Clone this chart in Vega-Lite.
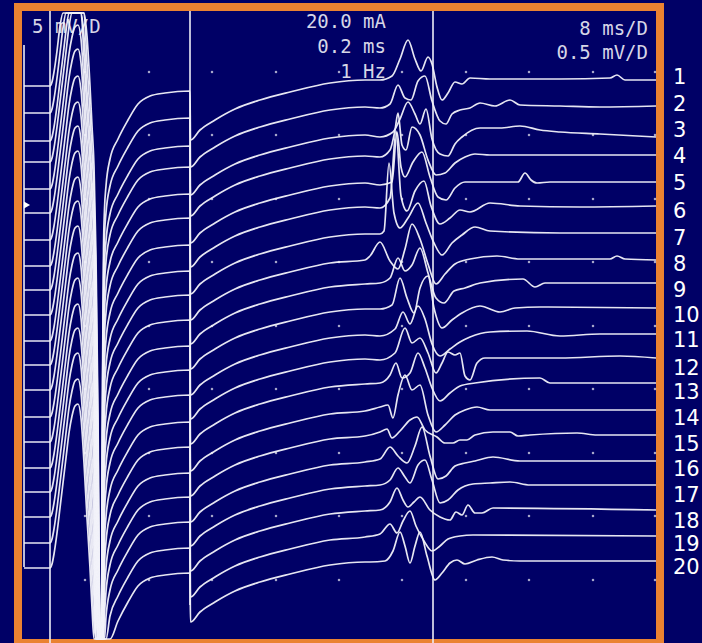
{
"$schema":"https://vega.github.io/schema/vega-lite/v6.json",
"width":642,"height":636,
"autosize":{"type":"none"},
"padding":{"left":18,"top":7,"right":42,"bottom":0},
"background":"#000066",
"config":{"view":{"fill":"#000066","stroke":"#ea8232","strokeWidth":8}},
"datasets":{
"rules":[{"t":2,"v":600,"v2":78},{"t":28,"v":634,"v2":2},{"t":168,"v":634,"v2":40},{"t":411,"v":634,"v2":2}],
"notesR":[{"t":364,"v":617,"s":"20.0 mA"},{"t":364,"v":592,"s":"0.2 ms"},{"t":364,"v":567,"s":"1 Hz"},{"t":626,"v":610,"s":"8 ms/D"},{"t":626,"v":586,"s":"0.5 mV/D"}],
"notesL":[{"t":10,"v":612,"s":"5 mV/D"}],
"nums":[{"t":651,"v":567,"s":"1"},{"t":651,"v":540,"s":"2"},{"t":651,"v":514,"s":"3"},{"t":651,"v":488,"s":"4"},{"t":651,"v":461,"s":"5"},{"t":651,"v":433,"s":"6"},{"t":651,"v":406,"s":"7"},{"t":651,"v":380,"s":"8"},{"t":651,"v":354,"s":"9"},{"t":651,"v":329,"s":"10"},{"t":651,"v":304,"s":"11"},{"t":651,"v":276,"s":"12"},{"t":651,"v":252,"s":"13"},{"t":651,"v":226,"s":"14"},{"t":651,"v":200,"s":"15"},{"t":651,"v":175,"s":"16"},{"t":651,"v":149,"s":"17"},{"t":651,"v":123,"s":"18"},{"t":651,"v":100,"s":"19"},{"t":651,"v":77,"s":"20"}],
"marker":[{"t":5,"v":440}],
"dots":[
{"t":63,"v":573},{"t":63,"v":510},{"t":63,"v":446},{"t":63,"v":383},{"t":63,"v":319},{"t":63,"v":256},{"t":63,"v":192},{"t":63,"v":129},{"t":63,"v":65},
{"t":127,"v":573},{"t":127,"v":510},{"t":127,"v":446},{"t":127,"v":383},{"t":127,"v":319},{"t":127,"v":256},{"t":127,"v":192},{"t":127,"v":129},{"t":127,"v":65},
{"t":190,"v":573},{"t":190,"v":510},{"t":190,"v":446},{"t":190,"v":383},{"t":190,"v":319},{"t":190,"v":256},{"t":190,"v":192},{"t":190,"v":129},{"t":190,"v":65},
{"t":254,"v":573},{"t":254,"v":510},{"t":254,"v":446},{"t":254,"v":383},{"t":254,"v":319},{"t":254,"v":256},{"t":254,"v":192},{"t":254,"v":129},{"t":254,"v":65},
{"t":317,"v":573},{"t":317,"v":510},{"t":317,"v":446},{"t":317,"v":383},{"t":317,"v":319},{"t":317,"v":256},{"t":317,"v":192},{"t":317,"v":129},{"t":317,"v":65},
{"t":380,"v":573},{"t":380,"v":510},{"t":380,"v":446},{"t":380,"v":383},{"t":380,"v":319},{"t":380,"v":256},{"t":380,"v":192},{"t":380,"v":129},{"t":380,"v":65},
{"t":444,"v":573},{"t":444,"v":510},{"t":444,"v":446},{"t":444,"v":383},{"t":444,"v":319},{"t":444,"v":256},{"t":444,"v":192},{"t":444,"v":129},{"t":444,"v":65},
{"t":507,"v":573},{"t":507,"v":510},{"t":507,"v":446},{"t":507,"v":383},{"t":507,"v":319},{"t":507,"v":256},{"t":507,"v":192},{"t":507,"v":129},{"t":507,"v":65},
{"t":571,"v":573},{"t":571,"v":510},{"t":571,"v":446},{"t":571,"v":383},{"t":571,"v":319},{"t":571,"v":256},{"t":571,"v":192},{"t":571,"v":129},{"t":571,"v":65},
{"t":633,"v":573},{"t":633,"v":510},{"t":633,"v":446},{"t":633,"v":383},{"t":633,"v":319},{"t":633,"v":256},{"t":633,"v":192},{"t":633,"v":129},{"t":633,"v":65}],
"traces":[
{"k":1,"t":2,"v":559},{"k":1,"t":28,"v":559},{"k":1,"t":30,"v":563},{"k":1,"t":32,"v":573},{"k":1,"t":35,"v":594},{"k":1,"t":38,"v":619},{"k":1,"t":41,"v":632},{"k":1,"t":62,"v":632},{"k":1,"t":65,"v":609},{"k":1,"t":68,"v":559},{"k":1,"t":70,"v":519},{"k":1,"t":72,"v":479},{"k":1,"t":74,"v":389},{"k":1,"t":76,"v":229},{"k":1,"t":78,"v":6},{"k":1,"t":79.5,"v":6},{"k":1,"t":80.5,"v":266},{"k":1,"t":81.5,"v":396},{"k":1,"t":82.5,"v":436},{"k":1,"t":84,"v":459},{"k":1,"t":88,"v":486},{"k":1,"t":96,"v":506},{"k":1,"t":106,"v":525},{"k":1,"t":116,"v":541},{"k":1,"t":128,"v":549},{"k":1,"t":143,"v":552},{"k":1,"t":168,"v":554},
{"k":1,"t":168.5,"v":505},{"k":1,"t":178,"v":515},{"k":1,"t":193,"v":525},{"k":1,"t":213,"v":536},{"k":1,"t":238,"v":545},{"k":1,"t":268,"v":553},{"k":1,"t":308,"v":562},{"k":1,"t":343,"v":565},
{"k":1,"t":358,"v":565},{"k":1,"t":370,"v":569},{"k":1,"t":378,"v":586},{"k":1,"t":386,"v":605},{"k":1,"t":393,"v":586},{"k":1,"t":399,"v":574},{"k":1,"t":406,"v":588},{"k":1,"t":410,"v":581},{"k":1,"t":415,"v":558},{"k":1,"t":420,"v":545},{"k":1,"t":426,"v":552},{"k":1,"t":433,"v":563},{"k":1,"t":440,"v":561},{"k":1,"t":448,"v":567},{"k":1,"t":468,"v":566},{"k":1,"t":538,"v":566},{"k":1,"t":588,"v":567},{"k":1,"t":595,"v":570},{"k":1,"t":603,"v":565},{"k":1,"t":634,"v":565},
{"k":2,"t":2,"v":532},{"k":2,"t":28,"v":532},{"k":2,"t":30,"v":536},{"k":2,"t":32,"v":546},{"k":2,"t":35,"v":567},{"k":2,"t":38,"v":592},{"k":2,"t":41,"v":617},{"k":2,"t":44,"v":632},{"k":2,"t":62,"v":632},{"k":2,"t":65,"v":582},{"k":2,"t":68,"v":532},{"k":2,"t":70,"v":492},{"k":2,"t":72,"v":452},{"k":2,"t":74,"v":362},{"k":2,"t":76,"v":202},{"k":2,"t":78,"v":6},{"k":2,"t":79.5,"v":6},{"k":2,"t":80.5,"v":239},{"k":2,"t":81.5,"v":369},{"k":2,"t":82.5,"v":409},{"k":2,"t":84,"v":432},{"k":2,"t":88,"v":459},{"k":2,"t":96,"v":479},{"k":2,"t":106,"v":498},{"k":2,"t":116,"v":514},{"k":2,"t":128,"v":522},{"k":2,"t":143,"v":525},{"k":2,"t":168,"v":527},
{"k":2,"t":168.5,"v":478},{"k":2,"t":178,"v":488},{"k":2,"t":193,"v":498},{"k":2,"t":213,"v":509},{"k":2,"t":238,"v":518},{"k":2,"t":268,"v":526},{"k":2,"t":308,"v":535},{"k":2,"t":343,"v":538},
{"k":2,"t":358,"v":537},{"k":2,"t":368,"v":541},{"k":2,"t":376,"v":560},{"k":2,"t":383,"v":547},{"k":2,"t":389,"v":545},{"k":2,"t":396,"v":564},{"k":2,"t":403,"v":569},{"k":2,"t":410,"v":544},{"k":2,"t":418,"v":524},{"k":2,"t":424,"v":521},{"k":2,"t":430,"v":531},{"k":2,"t":438,"v":535},{"k":2,"t":448,"v":537},{"k":2,"t":458,"v":542},{"k":2,"t":473,"v":539},{"k":2,"t":488,"v":545},{"k":2,"t":498,"v":540},{"k":2,"t":538,"v":539},{"k":2,"t":578,"v":538},{"k":2,"t":634,"v":539},
{"k":3,"t":2,"v":504},{"k":3,"t":28,"v":504},{"k":3,"t":30,"v":508},{"k":3,"t":32,"v":518},{"k":3,"t":35,"v":539},{"k":3,"t":38,"v":564},{"k":3,"t":41,"v":589},{"k":3,"t":44,"v":614},{"k":3,"t":47,"v":632},{"k":3,"t":59,"v":632},{"k":3,"t":62,"v":609},{"k":3,"t":65,"v":554},{"k":3,"t":68,"v":504},{"k":3,"t":70,"v":464},{"k":3,"t":72,"v":424},{"k":3,"t":74,"v":334},{"k":3,"t":76,"v":174},{"k":3,"t":78,"v":6},{"k":3,"t":79.5,"v":6},{"k":3,"t":80.5,"v":211},{"k":3,"t":81.5,"v":341},{"k":3,"t":82.5,"v":381},{"k":3,"t":84,"v":404},{"k":3,"t":88,"v":431},{"k":3,"t":96,"v":451},{"k":3,"t":106,"v":470},{"k":3,"t":116,"v":486},{"k":3,"t":128,"v":494},{"k":3,"t":143,"v":497},{"k":3,"t":168,"v":499},
{"k":3,"t":168.5,"v":450},{"k":3,"t":178,"v":460},{"k":3,"t":193,"v":470},{"k":3,"t":213,"v":481},{"k":3,"t":238,"v":490},{"k":3,"t":268,"v":498},{"k":3,"t":308,"v":507},{"k":3,"t":343,"v":510},
{"k":3,"t":358,"v":508},{"k":3,"t":371,"v":513},{"k":3,"t":378,"v":526},{"k":3,"t":386,"v":543},{"k":3,"t":393,"v":531},{"k":3,"t":398,"v":521},{"k":3,"t":404,"v":536},{"k":3,"t":410,"v":506},{"k":3,"t":418,"v":491},{"k":3,"t":426,"v":489},{"k":3,"t":433,"v":501},{"k":3,"t":440,"v":508},{"k":3,"t":458,"v":517},{"k":3,"t":478,"v":517},{"k":3,"t":498,"v":519},{"k":3,"t":518,"v":515},{"k":3,"t":538,"v":513},{"k":3,"t":578,"v":511},{"k":3,"t":634,"v":508},
{"k":4,"t":2,"v":483},{"k":4,"t":28,"v":483},{"k":4,"t":30,"v":487},{"k":4,"t":32,"v":497},{"k":4,"t":35,"v":518},{"k":4,"t":38,"v":543},{"k":4,"t":41,"v":568},{"k":4,"t":44,"v":593},{"k":4,"t":47,"v":618},{"k":4,"t":50,"v":632},{"k":4,"t":59,"v":632},{"k":4,"t":62,"v":588},{"k":4,"t":65,"v":533},{"k":4,"t":68,"v":483},{"k":4,"t":70,"v":443},{"k":4,"t":72,"v":403},{"k":4,"t":74,"v":313},{"k":4,"t":76,"v":153},{"k":4,"t":78,"v":6},{"k":4,"t":79.5,"v":6},{"k":4,"t":80.5,"v":190},{"k":4,"t":81.5,"v":320},{"k":4,"t":82.5,"v":360},{"k":4,"t":84,"v":383},{"k":4,"t":88,"v":410},{"k":4,"t":96,"v":430},{"k":4,"t":106,"v":449},{"k":4,"t":116,"v":465},{"k":4,"t":128,"v":473},{"k":4,"t":143,"v":476},{"k":4,"t":168,"v":478},
{"k":4,"t":168.5,"v":429},{"k":4,"t":178,"v":439},{"k":4,"t":193,"v":449},{"k":4,"t":213,"v":460},{"k":4,"t":238,"v":469},{"k":4,"t":268,"v":477},{"k":4,"t":308,"v":486},{"k":4,"t":343,"v":489},
{"k":4,"t":358,"v":488},{"k":4,"t":368,"v":495},{"k":4,"t":373,"v":515},{"k":4,"t":376,"v":532},{"k":4,"t":380,"v":500},{"k":4,"t":384,"v":495},{"k":4,"t":390,"v":518},{"k":4,"t":398,"v":510},{"k":4,"t":406,"v":485},{"k":4,"t":414,"v":470},{"k":4,"t":423,"v":472},{"k":4,"t":433,"v":482},{"k":4,"t":443,"v":488},{"k":4,"t":453,"v":491},{"k":4,"t":468,"v":490},{"k":4,"t":634,"v":490},
{"k":5,"t":2,"v":456},{"k":5,"t":28,"v":456},{"k":5,"t":30,"v":460},{"k":5,"t":32,"v":470},{"k":5,"t":35,"v":491},{"k":5,"t":38,"v":516},{"k":5,"t":41,"v":541},{"k":5,"t":44,"v":566},{"k":5,"t":47,"v":591},{"k":5,"t":50,"v":608},{"k":5,"t":53,"v":618},{"k":5,"t":56,"v":620},{"k":5,"t":59,"v":606},{"k":5,"t":62,"v":561},{"k":5,"t":65,"v":506},{"k":5,"t":68,"v":456},{"k":5,"t":70,"v":416},{"k":5,"t":72,"v":376},{"k":5,"t":74,"v":286},{"k":5,"t":76,"v":126},{"k":5,"t":78,"v":6},{"k":5,"t":79.5,"v":6},{"k":5,"t":80.5,"v":163},{"k":5,"t":81.5,"v":293},{"k":5,"t":82.5,"v":333},{"k":5,"t":84,"v":356},{"k":5,"t":88,"v":383},{"k":5,"t":96,"v":403},{"k":5,"t":106,"v":422},{"k":5,"t":116,"v":438},{"k":5,"t":128,"v":446},{"k":5,"t":143,"v":449},{"k":5,"t":168,"v":451},
{"k":5,"t":168.5,"v":402},{"k":5,"t":178,"v":412},{"k":5,"t":193,"v":422},{"k":5,"t":213,"v":433},{"k":5,"t":238,"v":442},{"k":5,"t":268,"v":450},{"k":5,"t":308,"v":459},{"k":5,"t":343,"v":462},
{"k":5,"t":358,"v":460},{"k":5,"t":370,"v":463},{"k":5,"t":375,"v":513},{"k":5,"t":379,"v":478},{"k":5,"t":383,"v":468},{"k":5,"t":391,"v":483},{"k":5,"t":400,"v":493},{"k":5,"t":408,"v":468},{"k":5,"t":416,"v":448},{"k":5,"t":424,"v":445},{"k":5,"t":433,"v":457},{"k":5,"t":443,"v":463},{"k":5,"t":496,"v":463},{"k":5,"t":503,"v":472},{"k":5,"t":509,"v":465},{"k":5,"t":515,"v":462},{"k":5,"t":528,"v":463},{"k":5,"t":634,"v":463},
{"k":6,"t":2,"v":432},{"k":6,"t":28,"v":432},{"k":6,"t":30,"v":436},{"k":6,"t":32,"v":446},{"k":6,"t":35,"v":467},{"k":6,"t":38,"v":492},{"k":6,"t":41,"v":517},{"k":6,"t":44,"v":542},{"k":6,"t":47,"v":567},{"k":6,"t":50,"v":584},{"k":6,"t":53,"v":594},{"k":6,"t":56,"v":596},{"k":6,"t":59,"v":582},{"k":6,"t":62,"v":537},{"k":6,"t":65,"v":482},{"k":6,"t":68,"v":432},{"k":6,"t":70,"v":392},{"k":6,"t":72,"v":352},{"k":6,"t":74,"v":262},{"k":6,"t":76,"v":102},{"k":6,"t":78,"v":6},{"k":6,"t":79.5,"v":6},{"k":6,"t":80.5,"v":139},{"k":6,"t":81.5,"v":269},{"k":6,"t":82.5,"v":309},{"k":6,"t":84,"v":332},{"k":6,"t":88,"v":359},{"k":6,"t":96,"v":379},{"k":6,"t":106,"v":398},{"k":6,"t":116,"v":414},{"k":6,"t":128,"v":422},{"k":6,"t":143,"v":425},{"k":6,"t":168,"v":427},
{"k":6,"t":168.5,"v":378},{"k":6,"t":178,"v":388},{"k":6,"t":193,"v":398},{"k":6,"t":213,"v":409},{"k":6,"t":238,"v":418},{"k":6,"t":268,"v":426},{"k":6,"t":308,"v":435},{"k":6,"t":343,"v":438},
{"k":6,"t":358,"v":437},{"k":6,"t":368,"v":447},{"k":6,"t":374,"v":514},{"k":6,"t":379,"v":449},{"k":6,"t":385,"v":434},{"k":6,"t":393,"v":454},{"k":6,"t":402,"v":464},{"k":6,"t":409,"v":439},{"k":6,"t":418,"v":421},{"k":6,"t":428,"v":427},{"k":6,"t":438,"v":435},{"k":6,"t":448,"v":433},{"k":6,"t":468,"v":442},{"k":6,"t":498,"v":439},{"k":6,"t":558,"v":438},{"k":6,"t":634,"v":439},
{"k":7,"t":2,"v":405},{"k":7,"t":28,"v":405},{"k":7,"t":30,"v":409},{"k":7,"t":32,"v":419},{"k":7,"t":35,"v":440},{"k":7,"t":38,"v":465},{"k":7,"t":41,"v":490},{"k":7,"t":44,"v":515},{"k":7,"t":47,"v":540},{"k":7,"t":50,"v":557},{"k":7,"t":53,"v":567},{"k":7,"t":56,"v":569},{"k":7,"t":59,"v":555},{"k":7,"t":62,"v":510},{"k":7,"t":65,"v":455},{"k":7,"t":68,"v":405},{"k":7,"t":70,"v":365},{"k":7,"t":72,"v":325},{"k":7,"t":74,"v":235},{"k":7,"t":76,"v":75},{"k":7,"t":78,"v":6},{"k":7,"t":79.5,"v":6},{"k":7,"t":80.5,"v":112},{"k":7,"t":81.5,"v":242},{"k":7,"t":82.5,"v":282},{"k":7,"t":84,"v":305},{"k":7,"t":88,"v":332},{"k":7,"t":96,"v":352},{"k":7,"t":106,"v":371},{"k":7,"t":116,"v":387},{"k":7,"t":128,"v":395},{"k":7,"t":143,"v":398},{"k":7,"t":168,"v":400},
{"k":7,"t":168.5,"v":351},{"k":7,"t":178,"v":361},{"k":7,"t":193,"v":371},{"k":7,"t":213,"v":382},{"k":7,"t":238,"v":391},{"k":7,"t":268,"v":399},{"k":7,"t":308,"v":408},{"k":7,"t":343,"v":411},
{"k":7,"t":358,"v":411},{"k":7,"t":362,"v":414},{"k":7,"t":367,"v":482},{"k":7,"t":372,"v":432},{"k":7,"t":378,"v":417},{"k":7,"t":386,"v":427},{"k":7,"t":396,"v":442},{"k":7,"t":404,"v":422},{"k":7,"t":412,"v":402},{"k":7,"t":420,"v":390},{"k":7,"t":430,"v":402},{"k":7,"t":440,"v":410},{"k":7,"t":453,"v":418},{"k":7,"t":468,"v":414},{"k":7,"t":538,"v":412},{"k":7,"t":634,"v":412},
{"k":8,"t":2,"v":379},{"k":8,"t":28,"v":379},{"k":8,"t":30,"v":383},{"k":8,"t":32,"v":393},{"k":8,"t":35,"v":414},{"k":8,"t":38,"v":439},{"k":8,"t":41,"v":464},{"k":8,"t":44,"v":489},{"k":8,"t":47,"v":514},{"k":8,"t":50,"v":531},{"k":8,"t":53,"v":541},{"k":8,"t":56,"v":543},{"k":8,"t":59,"v":529},{"k":8,"t":62,"v":484},{"k":8,"t":65,"v":429},{"k":8,"t":68,"v":379},{"k":8,"t":70,"v":339},{"k":8,"t":72,"v":299},{"k":8,"t":74,"v":209},{"k":8,"t":76,"v":49},{"k":8,"t":78,"v":6},{"k":8,"t":79.5,"v":6},{"k":8,"t":80.5,"v":86},{"k":8,"t":81.5,"v":216},{"k":8,"t":82.5,"v":256},{"k":8,"t":84,"v":279},{"k":8,"t":88,"v":306},{"k":8,"t":96,"v":326},{"k":8,"t":106,"v":345},{"k":8,"t":116,"v":361},{"k":8,"t":128,"v":369},{"k":8,"t":143,"v":372},{"k":8,"t":168,"v":374},
{"k":8,"t":168.5,"v":325},{"k":8,"t":178,"v":335},{"k":8,"t":193,"v":345},{"k":8,"t":213,"v":356},{"k":8,"t":238,"v":365},{"k":8,"t":268,"v":373},{"k":8,"t":308,"v":382},{"k":8,"t":343,"v":385},
{"k":8,"t":348,"v":389},{"k":8,"t":358,"v":403},{"k":8,"t":368,"v":384},{"k":8,"t":376,"v":376},{"k":8,"t":383,"v":396},{"k":8,"t":390,"v":421},{"k":8,"t":398,"v":406},{"k":8,"t":406,"v":381},{"k":8,"t":414,"v":361},{"k":8,"t":423,"v":371},{"k":8,"t":433,"v":381},{"k":8,"t":448,"v":386},{"k":8,"t":475,"v":389},{"k":8,"t":498,"v":386},{"k":8,"t":588,"v":386},{"k":8,"t":595,"v":389},{"k":8,"t":603,"v":386},{"k":8,"t":634,"v":385},
{"k":9,"t":2,"v":355},{"k":9,"t":28,"v":355},{"k":9,"t":30,"v":359},{"k":9,"t":32,"v":369},{"k":9,"t":35,"v":390},{"k":9,"t":38,"v":415},{"k":9,"t":41,"v":440},{"k":9,"t":44,"v":465},{"k":9,"t":47,"v":490},{"k":9,"t":50,"v":507},{"k":9,"t":53,"v":517},{"k":9,"t":56,"v":519},{"k":9,"t":59,"v":505},{"k":9,"t":62,"v":460},{"k":9,"t":65,"v":405},{"k":9,"t":68,"v":355},{"k":9,"t":70,"v":315},{"k":9,"t":72,"v":275},{"k":9,"t":74,"v":185},{"k":9,"t":76,"v":25},{"k":9,"t":78,"v":6},{"k":9,"t":79.5,"v":6},{"k":9,"t":80.5,"v":62},{"k":9,"t":81.5,"v":192},{"k":9,"t":82.5,"v":232},{"k":9,"t":84,"v":255},{"k":9,"t":88,"v":282},{"k":9,"t":96,"v":302},{"k":9,"t":106,"v":321},{"k":9,"t":116,"v":337},{"k":9,"t":128,"v":345},{"k":9,"t":143,"v":348},{"k":9,"t":168,"v":350},
{"k":9,"t":168.5,"v":301},{"k":9,"t":178,"v":311},{"k":9,"t":193,"v":321},{"k":9,"t":213,"v":332},{"k":9,"t":238,"v":341},{"k":9,"t":268,"v":349},{"k":9,"t":308,"v":358},{"k":9,"t":343,"v":361},
{"k":9,"t":358,"v":362},{"k":9,"t":368,"v":367},{"k":9,"t":376,"v":387},{"k":9,"t":383,"v":374},{"k":9,"t":390,"v":380},{"k":9,"t":398,"v":397},{"k":9,"t":406,"v":372},{"k":9,"t":414,"v":347},{"k":9,"t":422,"v":342},{"k":9,"t":432,"v":354},{"k":9,"t":443,"v":357},{"k":9,"t":458,"v":362},{"k":9,"t":501,"v":366},{"k":9,"t":513,"v":358},{"k":9,"t":523,"v":362},{"k":9,"t":634,"v":362},
{"k":10,"t":2,"v":330},{"k":10,"t":28,"v":330},{"k":10,"t":30,"v":334},{"k":10,"t":32,"v":344},{"k":10,"t":35,"v":365},{"k":10,"t":38,"v":390},{"k":10,"t":41,"v":415},{"k":10,"t":44,"v":440},{"k":10,"t":47,"v":465},{"k":10,"t":50,"v":482},{"k":10,"t":53,"v":492},{"k":10,"t":56,"v":494},{"k":10,"t":59,"v":480},{"k":10,"t":62,"v":435},{"k":10,"t":65,"v":380},{"k":10,"t":68,"v":330},{"k":10,"t":70,"v":290},{"k":10,"t":72,"v":250},{"k":10,"t":74,"v":160},{"k":10,"t":76,"v":6},{"k":10,"t":79.5,"v":6},{"k":10,"t":80.5,"v":37},{"k":10,"t":81.5,"v":167},{"k":10,"t":82.5,"v":207},{"k":10,"t":84,"v":230},{"k":10,"t":88,"v":257},{"k":10,"t":96,"v":277},{"k":10,"t":106,"v":296},{"k":10,"t":116,"v":312},{"k":10,"t":128,"v":320},{"k":10,"t":143,"v":323},{"k":10,"t":168,"v":325},
{"k":10,"t":168.5,"v":276},{"k":10,"t":178,"v":286},{"k":10,"t":193,"v":296},{"k":10,"t":213,"v":307},{"k":10,"t":238,"v":316},{"k":10,"t":268,"v":324},{"k":10,"t":308,"v":333},{"k":10,"t":343,"v":336},
{"k":10,"t":358,"v":336},{"k":10,"t":370,"v":340},{"k":10,"t":378,"v":367},{"k":10,"t":385,"v":347},{"k":10,"t":392,"v":332},{"k":10,"t":398,"v":357},{"k":10,"t":406,"v":369},{"k":10,"t":412,"v":337},{"k":10,"t":420,"v":317},{"k":10,"t":430,"v":325},{"k":10,"t":440,"v":332},{"k":10,"t":458,"v":339},{"k":10,"t":478,"v":333},{"k":10,"t":493,"v":337},{"k":10,"t":518,"v":338},{"k":10,"t":634,"v":337},
{"k":11,"t":2,"v":304},{"k":11,"t":28,"v":304},{"k":11,"t":30,"v":308},{"k":11,"t":32,"v":318},{"k":11,"t":35,"v":339},{"k":11,"t":38,"v":364},{"k":11,"t":41,"v":389},{"k":11,"t":44,"v":414},{"k":11,"t":47,"v":439},{"k":11,"t":50,"v":456},{"k":11,"t":53,"v":466},{"k":11,"t":56,"v":468},{"k":11,"t":59,"v":454},{"k":11,"t":62,"v":409},{"k":11,"t":65,"v":354},{"k":11,"t":68,"v":304},{"k":11,"t":70,"v":264},{"k":11,"t":72,"v":224},{"k":11,"t":74,"v":134},{"k":11,"t":76,"v":6},{"k":11,"t":79.5,"v":6},{"k":11,"t":80.5,"v":11},{"k":11,"t":81.5,"v":141},{"k":11,"t":82.5,"v":181},{"k":11,"t":84,"v":204},{"k":11,"t":88,"v":231},{"k":11,"t":96,"v":251},{"k":11,"t":106,"v":270},{"k":11,"t":116,"v":286},{"k":11,"t":128,"v":294},{"k":11,"t":143,"v":297},{"k":11,"t":168,"v":299},
{"k":11,"t":168.5,"v":250},{"k":11,"t":178,"v":260},{"k":11,"t":193,"v":270},{"k":11,"t":213,"v":281},{"k":11,"t":238,"v":290},{"k":11,"t":268,"v":298},{"k":11,"t":308,"v":307},{"k":11,"t":343,"v":310},
{"k":11,"t":358,"v":309},{"k":11,"t":373,"v":316},{"k":11,"t":381,"v":333},{"k":11,"t":388,"v":321},{"k":11,"t":396,"v":339},{"k":11,"t":403,"v":326},{"k":11,"t":410,"v":301},{"k":11,"t":418,"v":289},{"k":11,"t":428,"v":296},{"k":11,"t":438,"v":303},{"k":11,"t":448,"v":308},{"k":11,"t":468,"v":313},{"k":11,"t":505,"v":314},{"k":11,"t":538,"v":309},{"k":11,"t":578,"v":311},{"k":11,"t":634,"v":311},
{"k":12,"t":2,"v":280},{"k":12,"t":28,"v":280},{"k":12,"t":30,"v":284},{"k":12,"t":32,"v":294},{"k":12,"t":35,"v":315},{"k":12,"t":38,"v":340},{"k":12,"t":41,"v":365},{"k":12,"t":44,"v":390},{"k":12,"t":47,"v":415},{"k":12,"t":50,"v":432},{"k":12,"t":53,"v":442},{"k":12,"t":56,"v":444},{"k":12,"t":59,"v":430},{"k":12,"t":62,"v":385},{"k":12,"t":65,"v":330},{"k":12,"t":68,"v":280},{"k":12,"t":70,"v":240},{"k":12,"t":72,"v":200},{"k":12,"t":74,"v":110},{"k":12,"t":76,"v":6},{"k":12,"t":80.5,"v":6},{"k":12,"t":81.5,"v":117},{"k":12,"t":82.5,"v":157},{"k":12,"t":84,"v":180},{"k":12,"t":88,"v":207},{"k":12,"t":96,"v":227},{"k":12,"t":106,"v":246},{"k":12,"t":116,"v":262},{"k":12,"t":128,"v":270},{"k":12,"t":143,"v":273},{"k":12,"t":168,"v":275},
{"k":12,"t":168.5,"v":226},{"k":12,"t":178,"v":236},{"k":12,"t":193,"v":246},{"k":12,"t":213,"v":257},{"k":12,"t":238,"v":266},{"k":12,"t":268,"v":274},{"k":12,"t":308,"v":283},{"k":12,"t":343,"v":286},
{"k":12,"t":358,"v":285},{"k":12,"t":373,"v":292},{"k":12,"t":383,"v":317},{"k":12,"t":390,"v":302},{"k":12,"t":398,"v":307},{"k":12,"t":406,"v":292},{"k":12,"t":414,"v":272},{"k":12,"t":420,"v":282},{"k":12,"t":426,"v":293},{"k":12,"t":433,"v":290},{"k":12,"t":438,"v":292},{"k":12,"t":443,"v":269},{"k":12,"t":448,"v":265},{"k":12,"t":455,"v":282},{"k":12,"t":463,"v":287},{"k":12,"t":538,"v":287},{"k":12,"t":598,"v":289},{"k":12,"t":634,"v":287},
{"k":13,"t":2,"v":255},{"k":13,"t":28,"v":255},{"k":13,"t":30,"v":259},{"k":13,"t":32,"v":269},{"k":13,"t":35,"v":290},{"k":13,"t":38,"v":315},{"k":13,"t":41,"v":340},{"k":13,"t":44,"v":365},{"k":13,"t":47,"v":390},{"k":13,"t":50,"v":407},{"k":13,"t":53,"v":417},{"k":13,"t":56,"v":419},{"k":13,"t":59,"v":405},{"k":13,"t":62,"v":360},{"k":13,"t":65,"v":305},{"k":13,"t":68,"v":255},{"k":13,"t":70,"v":215},{"k":13,"t":72,"v":175},{"k":13,"t":74,"v":85},{"k":13,"t":76,"v":6},{"k":13,"t":80.5,"v":6},{"k":13,"t":81.5,"v":92},{"k":13,"t":82.5,"v":132},{"k":13,"t":84,"v":155},{"k":13,"t":88,"v":182},{"k":13,"t":96,"v":202},{"k":13,"t":106,"v":221},{"k":13,"t":116,"v":237},{"k":13,"t":128,"v":245},{"k":13,"t":143,"v":248},{"k":13,"t":168,"v":250},
{"k":13,"t":168.5,"v":201},{"k":13,"t":178,"v":211},{"k":13,"t":193,"v":221},{"k":13,"t":213,"v":232},{"k":13,"t":238,"v":241},{"k":13,"t":268,"v":249},{"k":13,"t":308,"v":258},{"k":13,"t":343,"v":261},
{"k":13,"t":358,"v":262},{"k":13,"t":368,"v":270},{"k":13,"t":374,"v":282},{"k":13,"t":380,"v":267},{"k":13,"t":388,"v":272},{"k":13,"t":396,"v":292},{"k":13,"t":403,"v":277},{"k":13,"t":410,"v":257},{"k":13,"t":418,"v":244},{"k":13,"t":428,"v":252},{"k":13,"t":438,"v":259},{"k":13,"t":453,"v":262},{"k":13,"t":518,"v":267},{"k":13,"t":528,"v":262},{"k":13,"t":634,"v":262},
{"k":14,"t":2,"v":228},{"k":14,"t":28,"v":228},{"k":14,"t":30,"v":232},{"k":14,"t":32,"v":242},{"k":14,"t":35,"v":263},{"k":14,"t":38,"v":288},{"k":14,"t":41,"v":313},{"k":14,"t":44,"v":338},{"k":14,"t":47,"v":363},{"k":14,"t":50,"v":380},{"k":14,"t":53,"v":390},{"k":14,"t":56,"v":392},{"k":14,"t":59,"v":378},{"k":14,"t":62,"v":333},{"k":14,"t":65,"v":278},{"k":14,"t":68,"v":228},{"k":14,"t":70,"v":188},{"k":14,"t":72,"v":148},{"k":14,"t":74,"v":58},{"k":14,"t":76,"v":6},{"k":14,"t":80.5,"v":6},{"k":14,"t":81.5,"v":65},{"k":14,"t":82.5,"v":105},{"k":14,"t":84,"v":128},{"k":14,"t":88,"v":155},{"k":14,"t":96,"v":175},{"k":14,"t":106,"v":194},{"k":14,"t":116,"v":210},{"k":14,"t":128,"v":218},{"k":14,"t":143,"v":221},{"k":14,"t":168,"v":223},
{"k":14,"t":168.5,"v":174},{"k":14,"t":178,"v":184},{"k":14,"t":193,"v":194},{"k":14,"t":213,"v":205},{"k":14,"t":238,"v":214},{"k":14,"t":268,"v":222},{"k":14,"t":308,"v":231},{"k":14,"t":343,"v":234},
{"k":14,"t":358,"v":238},{"k":14,"t":366,"v":240},{"k":14,"t":371,"v":227},{"k":14,"t":376,"v":250},{"k":14,"t":383,"v":270},{"k":14,"t":390,"v":255},{"k":14,"t":398,"v":260},{"k":14,"t":406,"v":230},{"k":14,"t":414,"v":213},{"k":14,"t":423,"v":220},{"k":14,"t":433,"v":230},{"k":14,"t":443,"v":235},{"k":14,"t":455,"v":238},{"k":14,"t":468,"v":235},{"k":14,"t":634,"v":235},
{"k":15,"t":2,"v":203},{"k":15,"t":28,"v":203},{"k":15,"t":30,"v":207},{"k":15,"t":32,"v":217},{"k":15,"t":35,"v":238},{"k":15,"t":38,"v":263},{"k":15,"t":41,"v":288},{"k":15,"t":44,"v":313},{"k":15,"t":47,"v":338},{"k":15,"t":50,"v":355},{"k":15,"t":53,"v":365},{"k":15,"t":56,"v":367},{"k":15,"t":59,"v":353},{"k":15,"t":62,"v":308},{"k":15,"t":65,"v":253},{"k":15,"t":68,"v":203},{"k":15,"t":70,"v":163},{"k":15,"t":72,"v":123},{"k":15,"t":74,"v":33},{"k":15,"t":76,"v":6},{"k":15,"t":80.5,"v":6},{"k":15,"t":81.5,"v":40},{"k":15,"t":82.5,"v":80},{"k":15,"t":84,"v":103},{"k":15,"t":88,"v":130},{"k":15,"t":96,"v":150},{"k":15,"t":106,"v":169},{"k":15,"t":116,"v":185},{"k":15,"t":128,"v":193},{"k":15,"t":143,"v":196},{"k":15,"t":168,"v":198},
{"k":15,"t":168.5,"v":149},{"k":15,"t":178,"v":159},{"k":15,"t":193,"v":169},{"k":15,"t":213,"v":180},{"k":15,"t":238,"v":189},{"k":15,"t":268,"v":197},{"k":15,"t":308,"v":206},{"k":15,"t":343,"v":209},
{"k":15,"t":358,"v":213},{"k":15,"t":365,"v":216},{"k":15,"t":370,"v":207},{"k":15,"t":378,"v":214},{"k":15,"t":388,"v":225},{"k":15,"t":395,"v":228},{"k":15,"t":403,"v":215},{"k":15,"t":415,"v":208},{"k":15,"t":423,"v":202},{"k":15,"t":431,"v":202},{"k":15,"t":438,"v":205},{"k":15,"t":445,"v":205},{"k":15,"t":453,"v":210},{"k":15,"t":471,"v":213},{"k":15,"t":488,"v":213},{"k":15,"t":496,"v":209},{"k":15,"t":508,"v":210},{"k":15,"t":555,"v":212},{"k":15,"t":575,"v":210},{"k":15,"t":634,"v":210},
{"k":16,"t":2,"v":177},{"k":16,"t":28,"v":177},{"k":16,"t":30,"v":181},{"k":16,"t":32,"v":191},{"k":16,"t":35,"v":212},{"k":16,"t":38,"v":237},{"k":16,"t":41,"v":262},{"k":16,"t":44,"v":287},{"k":16,"t":47,"v":312},{"k":16,"t":50,"v":329},{"k":16,"t":53,"v":339},{"k":16,"t":56,"v":341},{"k":16,"t":59,"v":327},{"k":16,"t":62,"v":282},{"k":16,"t":65,"v":227},{"k":16,"t":68,"v":177},{"k":16,"t":70,"v":137},{"k":16,"t":72,"v":97},{"k":16,"t":74,"v":7},{"k":16,"t":80.5,"v":6},{"k":16,"t":81.5,"v":14},{"k":16,"t":82.5,"v":54},{"k":16,"t":84,"v":77},{"k":16,"t":88,"v":104},{"k":16,"t":96,"v":124},{"k":16,"t":106,"v":143},{"k":16,"t":116,"v":159},{"k":16,"t":128,"v":167},{"k":16,"t":143,"v":170},{"k":16,"t":168,"v":172},
{"k":16,"t":168.5,"v":123},{"k":16,"t":178,"v":133},{"k":16,"t":193,"v":143},{"k":16,"t":213,"v":154},{"k":16,"t":238,"v":163},{"k":16,"t":268,"v":171},{"k":16,"t":308,"v":180},{"k":16,"t":343,"v":183},
{"k":16,"t":358,"v":186},{"k":16,"t":368,"v":198},{"k":16,"t":376,"v":189},{"k":16,"t":385,"v":182},{"k":16,"t":393,"v":199},{"k":16,"t":400,"v":218},{"k":16,"t":408,"v":189},{"k":16,"t":416,"v":166},{"k":16,"t":424,"v":169},{"k":16,"t":433,"v":179},{"k":16,"t":443,"v":182},{"k":16,"t":453,"v":184},{"k":16,"t":471,"v":188},{"k":16,"t":498,"v":184},{"k":16,"t":634,"v":184},
{"k":17,"t":2,"v":153},{"k":17,"t":28,"v":153},{"k":17,"t":30,"v":157},{"k":17,"t":32,"v":167},{"k":17,"t":35,"v":188},{"k":17,"t":38,"v":213},{"k":17,"t":41,"v":238},{"k":17,"t":44,"v":263},{"k":17,"t":47,"v":288},{"k":17,"t":50,"v":305},{"k":17,"t":53,"v":315},{"k":17,"t":56,"v":317},{"k":17,"t":59,"v":303},{"k":17,"t":62,"v":258},{"k":17,"t":65,"v":203},{"k":17,"t":68,"v":153},{"k":17,"t":70,"v":113},{"k":17,"t":72,"v":73},{"k":17,"t":74,"v":6},{"k":17,"t":81.5,"v":6},{"k":17,"t":82.5,"v":30},{"k":17,"t":84,"v":53},{"k":17,"t":88,"v":80},{"k":17,"t":96,"v":100},{"k":17,"t":106,"v":119},{"k":17,"t":116,"v":135},{"k":17,"t":128,"v":143},{"k":17,"t":143,"v":146},{"k":17,"t":168,"v":148},
{"k":17,"t":168.5,"v":99},{"k":17,"t":178,"v":109},{"k":17,"t":193,"v":119},{"k":17,"t":213,"v":130},{"k":17,"t":238,"v":139},{"k":17,"t":268,"v":147},{"k":17,"t":308,"v":156},{"k":17,"t":343,"v":159},
{"k":17,"t":358,"v":160},{"k":17,"t":368,"v":165},{"k":17,"t":376,"v":177},{"k":17,"t":383,"v":168},{"k":17,"t":388,"v":162},{"k":17,"t":396,"v":180},{"k":17,"t":403,"v":185},{"k":17,"t":410,"v":165},{"k":17,"t":418,"v":142},{"k":17,"t":426,"v":145},{"k":17,"t":436,"v":155},{"k":17,"t":451,"v":161},{"k":17,"t":468,"v":162},{"k":17,"t":488,"v":163},{"k":17,"t":508,"v":160},{"k":17,"t":634,"v":160},
{"k":18,"t":2,"v":128},{"k":18,"t":28,"v":128},{"k":18,"t":30,"v":132},{"k":18,"t":32,"v":142},{"k":18,"t":35,"v":163},{"k":18,"t":38,"v":188},{"k":18,"t":41,"v":213},{"k":18,"t":44,"v":238},{"k":18,"t":47,"v":263},{"k":18,"t":50,"v":280},{"k":18,"t":53,"v":290},{"k":18,"t":56,"v":292},{"k":18,"t":59,"v":278},{"k":18,"t":62,"v":233},{"k":18,"t":65,"v":178},{"k":18,"t":68,"v":128},{"k":18,"t":70,"v":88},{"k":18,"t":72,"v":48},{"k":18,"t":74,"v":6},{"k":18,"t":82.5,"v":6},{"k":18,"t":84,"v":28},{"k":18,"t":88,"v":55},{"k":18,"t":96,"v":75},{"k":18,"t":106,"v":94},{"k":18,"t":116,"v":110},{"k":18,"t":128,"v":118},{"k":18,"t":143,"v":121},{"k":18,"t":168,"v":123},
{"k":18,"t":168.5,"v":74},{"k":18,"t":178,"v":84},{"k":18,"t":193,"v":94},{"k":18,"t":213,"v":105},{"k":18,"t":238,"v":114},{"k":18,"t":268,"v":122},{"k":18,"t":308,"v":131},{"k":18,"t":343,"v":134},
{"k":18,"t":358,"v":135},{"k":18,"t":368,"v":143},{"k":18,"t":375,"v":157},{"k":18,"t":381,"v":145},{"k":18,"t":386,"v":138},{"k":18,"t":392,"v":143},{"k":18,"t":398,"v":148},{"k":18,"t":408,"v":135},{"k":18,"t":418,"v":128},{"k":18,"t":428,"v":125},{"k":18,"t":434,"v":133},{"k":18,"t":440,"v":130},{"k":18,"t":446,"v":140},{"k":18,"t":453,"v":132},{"k":18,"t":460,"v":132},{"k":18,"t":471,"v":137},{"k":18,"t":634,"v":135},
{"k":19,"t":2,"v":102},{"k":19,"t":28,"v":102},{"k":19,"t":30,"v":106},{"k":19,"t":32,"v":116},{"k":19,"t":35,"v":137},{"k":19,"t":38,"v":162},{"k":19,"t":41,"v":187},{"k":19,"t":44,"v":212},{"k":19,"t":47,"v":237},{"k":19,"t":50,"v":254},{"k":19,"t":53,"v":264},{"k":19,"t":56,"v":266},{"k":19,"t":59,"v":252},{"k":19,"t":62,"v":207},{"k":19,"t":65,"v":152},{"k":19,"t":68,"v":102},{"k":19,"t":70,"v":62},{"k":19,"t":72,"v":22},{"k":19,"t":74,"v":6},{"k":19,"t":84,"v":6},{"k":19,"t":88,"v":29},{"k":19,"t":96,"v":49},{"k":19,"t":106,"v":68},{"k":19,"t":116,"v":84},{"k":19,"t":128,"v":92},{"k":19,"t":143,"v":95},{"k":19,"t":168,"v":97},
{"k":19,"t":168.5,"v":48},{"k":19,"t":178,"v":58},{"k":19,"t":193,"v":68},{"k":19,"t":213,"v":79},{"k":19,"t":238,"v":88},{"k":19,"t":268,"v":96},{"k":19,"t":308,"v":105},{"k":19,"t":343,"v":108},
{"k":19,"t":358,"v":111},{"k":19,"t":368,"v":121},{"k":19,"t":375,"v":112},{"k":19,"t":381,"v":124},{"k":19,"t":388,"v":134},{"k":19,"t":394,"v":119},{"k":19,"t":402,"v":104},{"k":19,"t":410,"v":94},{"k":19,"t":418,"v":99},{"k":19,"t":426,"v":106},{"k":19,"t":438,"v":109},{"k":19,"t":451,"v":110},{"k":19,"t":634,"v":109},
{"k":20,"t":2,"v":77},{"k":20,"t":28,"v":77},{"k":20,"t":30,"v":81},{"k":20,"t":32,"v":91},{"k":20,"t":35,"v":112},{"k":20,"t":38,"v":137},{"k":20,"t":41,"v":162},{"k":20,"t":44,"v":187},{"k":20,"t":47,"v":212},{"k":20,"t":50,"v":229},{"k":20,"t":53,"v":239},{"k":20,"t":56,"v":241},{"k":20,"t":59,"v":227},{"k":20,"t":62,"v":182},{"k":20,"t":65,"v":127},{"k":20,"t":68,"v":77},{"k":20,"t":70,"v":37},{"k":20,"t":72,"v":6},{"k":20,"t":88,"v":6},{"k":20,"t":96,"v":24},{"k":20,"t":106,"v":43},{"k":20,"t":116,"v":59},{"k":20,"t":128,"v":67},{"k":20,"t":143,"v":70},{"k":20,"t":168,"v":72},
{"k":20,"t":168.5,"v":23},{"k":20,"t":178,"v":33},{"k":20,"t":193,"v":43},{"k":20,"t":213,"v":54},{"k":20,"t":238,"v":63},{"k":20,"t":268,"v":71},{"k":20,"t":308,"v":80},{"k":20,"t":343,"v":83},
{"k":20,"t":348,"v":83},{"k":20,"t":363,"v":84},{"k":20,"t":371,"v":94},{"k":20,"t":378,"v":113},{"k":20,"t":383,"v":99},{"k":20,"t":388,"v":82},{"k":20,"t":393,"v":99},{"k":20,"t":398,"v":113},{"k":20,"t":405,"v":89},{"k":20,"t":413,"v":65},{"k":20,"t":420,"v":72},{"k":20,"t":428,"v":82},{"k":20,"t":435,"v":85},{"k":20,"t":443,"v":81},{"k":20,"t":455,"v":85},{"k":20,"t":470,"v":88},{"k":20,"t":481,"v":85},{"k":20,"t":498,"v":84},{"k":20,"t":634,"v":84}
]},
"encoding":{
"x":{"field":"t","type":"quantitative","scale":{"domain":[-4,638],"nice":false,"zero":false},"axis":null},
"y":{"field":"v","type":"quantitative","scale":{"domain":[2,638],"nice":false,"zero":false},"axis":null}
},
"layer":[
{"data":{"name":"dots"},"mark":{"type":"square","size":5,"color":"#b8b8d4","opacity":0.9}},
{"data":{"name":"notesR"},"mark":{"type":"text","align":"right","baseline":"alphabetic","font":"DejaVu Sans Mono","fontSize":19,"color":"#d6d6e6"},"encoding":{"text":{"field":"s","type":"nominal"}}},
{"data":{"name":"notesL"},"mark":{"type":"text","align":"left","baseline":"alphabetic","font":"DejaVu Sans Mono","fontSize":19,"color":"#d6d6e6"},"encoding":{"text":{"field":"s","type":"nominal"}}},
{"data":{"name":"rules"},"mark":{"type":"rule","color":"#ececf6","strokeWidth":1.6},"encoding":{"y2":{"field":"v2"}}},
{"data":{"name":"traces"},"mark":{"type":"line","interpolate":"monotone","color":"#f2f2fa","strokeWidth":1.7,"opacity":0.95},"encoding":{"detail":{"field":"k","type":"nominal"}}},
{"data":{"name":"nums"},"mark":{"type":"text","align":"left","baseline":"middle","font":"DejaVu Sans","fontSize":21,"color":"#ffffff"},"encoding":{"text":{"field":"s","type":"nominal"}}},
{"data":{"name":"marker"},"mark":{"type":"point","shape":"triangle-right","filled":true,"size":50,"color":"#ffffff","opacity":1}}
]
}
